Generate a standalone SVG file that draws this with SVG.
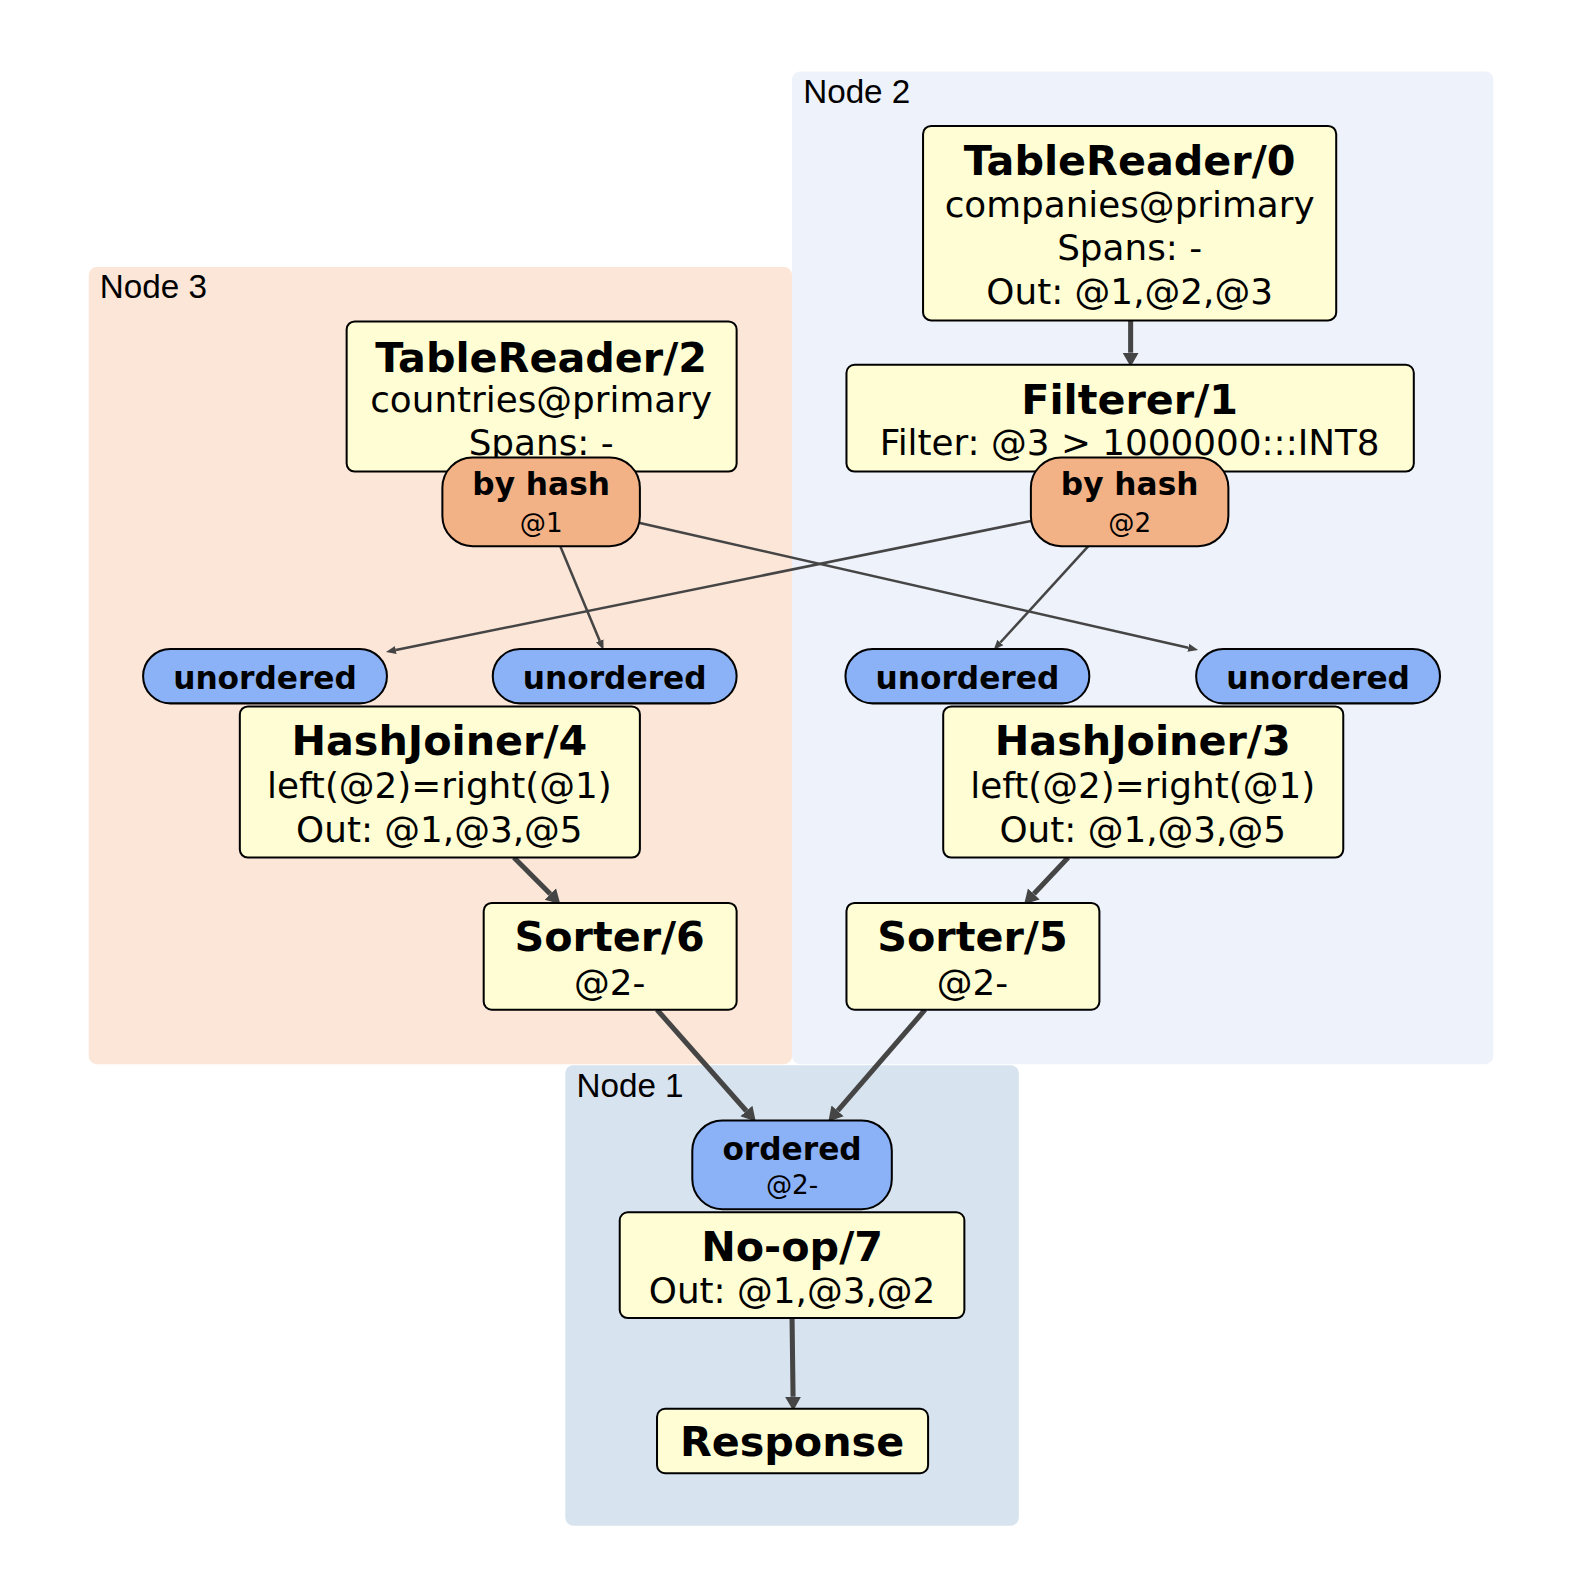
<svg xmlns="http://www.w3.org/2000/svg" width="1580" height="1576" viewBox="0 0 1580 1576">
<style>
.cl{stroke:none}
.lbl{font-family:"Liberation Sans",Arial,sans-serif;font-size:33px;fill:#000;text-anchor:start}
.box{fill:#fefdd3;stroke:#000;stroke-width:2}
.hash{fill:#f3b286;stroke:#000;stroke-width:2}
.ord{fill:#8bb1f6;stroke:#000;stroke-width:2}
text{font-family:"DejaVu Sans",Verdana,sans-serif;fill:#000;text-anchor:middle}
.t{font-weight:bold;font-size:41px}
.b{font-size:35.5px}
.p{font-weight:bold;font-size:31px}
.s{font-size:26px}
.thick{stroke:#454545;stroke-width:5;fill:none}
.thin{stroke:#454545;stroke-width:2.5;fill:none}
</style>
<defs>
<marker id="ah" markerUnits="userSpaceOnUse" markerWidth="16" markerHeight="18" refX="0" refY="8" orient="auto" viewBox="0 0 16 16"><path d="M0,0 L14,8 L0,16 Z" fill="#454545"/></marker>
<marker id="as" markerUnits="userSpaceOnUse" markerWidth="11" markerHeight="9" refX="0" refY="4" orient="auto" viewBox="0 0 11 8"><path d="M0,0 L10,4 L0,8 Z" fill="#454545"/></marker>
</defs>
<rect width="1580" height="1576" fill="#fff"/>
<g transform="scale(1.0077)">
<g id="cluster-node2"><rect class="cl" x="786" y="71" width="696" height="985" rx="8" fill="#eef2fa"/><text class="lbl" x="797" y="102">Node 2</text></g>
<g id="cluster-node3"><rect class="cl" x="88" y="265" width="698" height="791" rx="8" fill="#fbe6d8"/><text class="lbl" x="99" y="296">Node 3</text></g>
<g id="cluster-node1"><rect class="cl" x="561" y="1057" width="450" height="457" rx="8" fill="#d7e3ef"/><text class="lbl" x="572" y="1088.5">Node 1</text></g>
<g id="connectors">
<line class="thick" x1="1122" y1="318" x2="1122" y2="350" marker-end="url(#ah)"/>
<line class="thin" x1="1023" y1="517" x2="392.8" y2="645" marker-end="url(#as)"/>
<line class="thin" x1="1080" y1="542" x2="992.7" y2="637.6" marker-end="url(#as)"/>
<line class="thin" x1="556" y1="542" x2="595.1" y2="635.8" marker-end="url(#as)"/>
<line class="thin" x1="635" y1="519" x2="1179.2" y2="642.8" marker-end="url(#as)"/>
<line class="thick" x1="510" y1="851" x2="546.1" y2="887.1" marker-end="url(#ah)"/>
<line class="thick" x1="1060" y1="851" x2="1025.9" y2="887.1" marker-end="url(#ah)"/>
<line class="thick" x1="652" y1="1002" x2="740.7" y2="1102.5" marker-end="url(#ah)"/>
<line class="thick" x1="918" y1="1002" x2="831.2" y2="1102.4" marker-end="url(#ah)"/>
<line class="thick" x1="786" y1="1308" x2="787" y2="1386" marker-end="url(#ah)"/>
</g>
<g id="TableReader0"><rect class="box" x="916" y="125" width="410" height="193" rx="8"/>
<text class="t" x="1121" y="173.5">TableReader/0</text><text class="b" x="1121" y="215.5">companies@primary</text><text class="b" x="1121" y="258.5">Spans: -</text><text class="b" x="1121" y="302">Out: @1,@2,@3</text></g>
<g id="Filterer1"><rect class="box" x="840" y="362" width="563" height="106" rx="8"/>
<text class="t" x="1121" y="410.5">Filterer/1</text><text class="b" x="1121" y="452">Filter: @3 &gt; 1000000:::INT8</text></g>
<g id="hash2"><rect class="hash" x="1023" y="454" width="196" height="88" rx="30"/>
<text class="p" x="1121" y="491.5">by hash</text><text class="s" x="1121" y="528">@2</text></g>
<g id="TableReader2"><rect class="box" x="344" y="319" width="387" height="149" rx="8"/>
<text class="t" x="537" y="369">TableReader/2</text><text class="b" x="537" y="408.5">countries@primary</text><text class="b" x="537" y="452">Spans: -</text></g>
<g id="hash1"><rect class="hash" x="439" y="454" width="196" height="88" rx="30"/>
<text class="p" x="537" y="491.5">by hash</text><text class="s" x="537" y="528">@1</text></g>
<g id="unordered1"><rect class="ord" x="142" y="644" width="242" height="54" rx="27"/><text class="p" x="263" y="683.5">unordered</text></g>
<g id="unordered2"><rect class="ord" x="489" y="644" width="242" height="54" rx="27"/><text class="p" x="610" y="683.5">unordered</text></g>
<g id="unordered3"><rect class="ord" x="839" y="644" width="242" height="54" rx="27"/><text class="p" x="960" y="683.5">unordered</text></g>
<g id="unordered4"><rect class="ord" x="1187" y="644" width="242" height="54" rx="27"/><text class="p" x="1308" y="683.5">unordered</text></g>
<g id="HashJoiner4"><rect class="box" x="238" y="701" width="397" height="150" rx="8"/>
<text class="t" x="436" y="749">HashJoiner/4</text><text class="b" x="436" y="791.5">left(@2)=right(@1)</text><text class="b" x="436" y="835.5">Out: @1,@3,@5</text></g>
<g id="HashJoiner3"><rect class="box" x="936" y="701" width="397" height="150" rx="8"/>
<text class="t" x="1134" y="749">HashJoiner/3</text><text class="b" x="1134" y="791.5">left(@2)=right(@1)</text><text class="b" x="1134" y="835.5">Out: @1,@3,@5</text></g>
<g id="Sorter6"><rect class="box" x="480" y="896" width="251" height="106" rx="8"/>
<text class="t" x="605" y="944">Sorter/6</text><text class="b" x="605" y="987">@2-</text></g>
<g id="Sorter5"><rect class="box" x="840" y="896" width="251" height="106" rx="8"/>
<text class="t" x="965" y="944">Sorter/5</text><text class="b" x="965" y="987">@2-</text></g>
<g id="ordered"><rect class="ord" x="687" y="1112" width="198" height="88" rx="30"/>
<text class="p" x="786" y="1151">ordered</text><text class="s" x="786" y="1185">@2-</text></g>
<g id="Noop7"><rect class="box" x="615" y="1203" width="342" height="105" rx="8"/>
<text class="t" x="786" y="1251">No-op/7</text><text class="b" x="786" y="1293">Out: @1,@3,@2</text></g>
<g id="Response"><rect class="box" x="652" y="1398" width="269" height="64" rx="8"/>
<text class="t" x="786" y="1445">Response</text></g>
</g>
</svg>
